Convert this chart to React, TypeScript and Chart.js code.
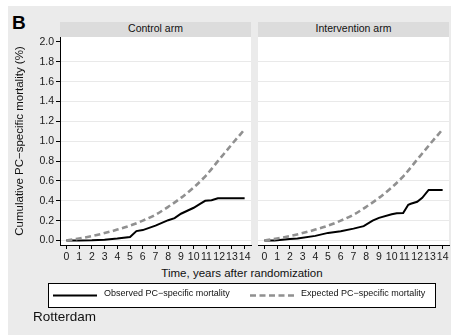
import React, { useEffect, useRef } from "react";
import { Chart, registerables } from "chart.js";

Chart.register(...registerables);

// ---------- data ----------
const xTickValues = [0, 1, 2, 3, 4, 5, 6, 7, 8, 9, 10, 11, 12, 13, 14];
const xTickLabels = ["0", "1", "2", "3", "4", "5", "6", "7", "8", "9", "10", "11", "12", "13", "14"];
const yTickValues = [0, 0.2, 0.4, 0.6, 0.8, 1.0, 1.2, 1.4, 1.6, 1.8, 2.0];
const yTickLabels = ["0.0", "0.2", "0.4", "0.6", "0.8", "1.0", "1.2", "1.4", "1.6", "1.8", "2.0"];

const expectedYears = [0, 1, 2, 3, 4, 5, 6, 7, 8, 9, 10, 11, 12, 13, 14];
const expectedControl = [0, 0.02, 0.045, 0.075, 0.11, 0.15, 0.2, 0.26, 0.34, 0.43, 0.535, 0.66, 0.815, 0.97, 1.12];
const expectedIntervention = [0, 0.02, 0.045, 0.075, 0.11, 0.15, 0.2, 0.26, 0.34, 0.43, 0.535, 0.66, 0.815, 0.97, 1.12];

const controlObsYears = [0, 1, 2, 3, 4, 5, 5.5, 6, 7, 8, 8.5, 9, 9.5, 10, 10.5, 10.9, 11.4, 11.9, 14];
const controlObsValues = [0, 0, 0.002, 0.008, 0.02, 0.035, 0.095, 0.105, 0.15, 0.205, 0.225, 0.27, 0.3, 0.33, 0.37, 0.4, 0.405, 0.425, 0.425];

const interventionObsYears = [0, 0.8, 2, 2.6, 4, 5, 6, 7, 7.8, 8.5, 9, 10, 10.4, 10.9, 11.3, 11.5, 12, 12.4, 12.9, 14];
const interventionObsValues = [0, 0, 0.015, 0.02, 0.047, 0.077, 0.094, 0.12, 0.145, 0.2, 0.228, 0.265, 0.275, 0.278, 0.36, 0.37, 0.39, 0.43, 0.51, 0.51];

const FONT = "'Liberation Sans', Arial, Helvetica, sans-serif";

const whiteArea = {
  id: "whiteArea",
  beforeDraw(chart: any) {
    const { ctx, chartArea: a } = chart;
    ctx.save();
    ctx.fillStyle = "#ffffff";
    ctx.fillRect(a.left, a.top, a.right - a.left, a.bottom - a.top);
    ctx.restore();
  },
};

function buildChart(
  canvas: HTMLCanvasElement,
  obsYears: number[],
  obsValues: number[],
  expected: number[],
  showY: boolean
) {
  const obs = obsYears.map((x, i) => ({ x, y: obsValues[i] }));
  const exp = expectedYears.map((x, i) => ({ x, y: expected[i] }));
  return new Chart(canvas, {
    type: "line",
    data: {
      datasets: [
        {
          label: "Expected PC−specific mortality",
          data: exp,
          borderColor: "#909090",
          borderWidth: 2.6,
          borderDash: [6, 3.5],
          pointRadius: 0,
          cubicInterpolationMode: "monotone",
          fill: false,
        },
        {
          label: "Observed PC−specific mortality",
          data: obs,
          borderColor: "#000000",
          borderWidth: 2,
          pointRadius: 0,
          tension: 0,
          fill: false,
        },
      ],
    },
    options: {
      animation: false,
      responsive: false,
      maintainAspectRatio: false,
      devicePixelRatio: 1,
      layout: { padding: { left: 0, right: 3, top: 0, bottom: 0 } },
      plugins: {
        legend: { display: false },
        tooltip: { enabled: false },
      },
      scales: {
        x: {
          type: "linear",
          min: -0.5,
          max: 14.5,
          afterBuildTicks: (s: any) => {
            s.ticks = xTickValues.map((v) => ({ value: v }));
          },
          afterFit: (s: any) => {
            s.height = 22;
            s.paddingLeft = 0;
            s.paddingRight = 0;
          },
          ticks: {
            autoSkip: false,
            maxRotation: 0,
            padding: 2,
            color: "#1a1a1a",
            font: { family: FONT, size: 10.5 },
            callback: (_v: any, i: number) => xTickLabels[i],
          },
          grid: {
            drawOnChartArea: false,
            drawTicks: true,
            tickLength: 4,
            tickColor: "#000000",
            color: "#000000",
          },
          border: { display: true, color: "#000000", width: 1 },
        },
        y: {
          type: "linear",
          min: -0.045,
          max: 2.05,
          afterBuildTicks: (s: any) => {
            s.ticks = yTickValues.map((v) => ({ value: v }));
          },
          afterFit: (s: any) => {
            s.width = showY ? 52 : 0;
            s.paddingTop = 0;
            s.paddingBottom = 0;
          },
          ticks: {
            display: showY,
            autoSkip: false,
            padding: 2,
            color: "#1a1a1a",
            font: { family: FONT, size: 10.5 },
            callback: (_v: any, i: number) => yTickLabels[i],
          },
          grid: {
            color: (c: any) => (c.tick && c.tick.value === 2 ? "rgba(0,0,0,0)" : "#e9e9e9"),
            lineWidth: 1,
            drawTicks: showY,
            tickLength: showY ? 4 : 0,
            tickColor: "#000000",
          },
          border: { display: showY, color: "#000000", width: 1 },
          title: {
            display: showY,
            text: "Cumulative PC−specific mortality (%)",
            color: "#111111",
            font: { family: FONT, size: 11.5 },
            padding: { top: 5, bottom: 0 },
          },
        },
      },
    },
    plugins: [whiteArea],
  } as any);
}

function Panel(props: {
  left: number;
  width: number;
  obsYears: number[];
  obsValues: number[];
  expected: number[];
  showY: boolean;
}) {
  const ref = useRef<HTMLCanvasElement | null>(null);
  useEffect(() => {
    if (!ref.current) return;
    const chart = buildChart(ref.current, props.obsYears, props.obsValues, props.expected, props.showY);
    return () => chart.destroy();
  }, []);
  return (
    <canvas
      ref={ref}
      width={props.width}
      height={230}
      style={{ position: "absolute", left: props.left, top: 37, width: props.width, height: 230 }}
    />
  );
}

const text = (extra: React.CSSProperties): React.CSSProperties => ({
  position: "absolute",
  fontFamily: FONT,
  lineHeight: 1,
  whiteSpace: "nowrap",
  color: "#111",
  ...extra,
});

export default function App() {
  return (
    <div style={{ position: "absolute", left: 0, top: 0, width: 458, height: 335, background: "#fff", overflow: "hidden" }}>
      <div style={{ position: "absolute", left: 8, top: 6, width: 443, height: 329, background: "#ebebeb" }} />
      <div style={text({ left: 12, top: 13, fontSize: 19, fontWeight: "bold", color: "#000" })}>B</div>

      <div
        style={{
          position: "absolute",
          left: 60,
          top: 22,
          width: 191,
          height: 15,
          background: "#dcdcdc",
          fontFamily: FONT,
          fontSize: 10.5,
          lineHeight: "13.5px",
          textAlign: "center",
          color: "#111",
        }}
      >
        Control arm
      </div>
      <div
        style={{
          position: "absolute",
          left: 258,
          top: 22,
          width: 191,
          height: 15,
          background: "#dcdcdc",
          fontFamily: FONT,
          fontSize: 10.5,
          lineHeight: "13.5px",
          textAlign: "center",
          color: "#111",
        }}
      >
        Intervention arm
      </div>

      <Panel left={8} width={246} obsYears={controlObsYears} obsValues={controlObsValues} expected={expectedControl} showY={true} />
      <Panel left={258} width={194} obsYears={interventionObsYears} obsValues={interventionObsValues} expected={expectedIntervention} showY={false} />

      <div style={text({ left: 42, width: 400, top: 268, fontSize: 11.5, textAlign: "center" })}>
        Time, years after randomization
      </div>

      <div
        style={{
          position: "absolute",
          left: 48,
          top: 283,
          width: 388,
          height: 25,
          background: "#fff",
          border: "1px solid #000",
          boxSizing: "border-box",
        }}
      />
      <svg style={{ position: "absolute", left: 0, top: 0 }} width={458} height={335}>
        <line x1={53} y1={295.5} x2={97} y2={295.5} stroke="#000" strokeWidth={2} />
        <line x1={250} y1={295.5} x2={295} y2={295.5} stroke="#909090" strokeWidth={2.6} strokeDasharray="6 3.5" />
      </svg>
      <div style={text({ left: 104, top: 289.4, fontSize: 9 })}>Observed PC−specific mortality</div>
      <div style={text({ left: 301, top: 289.4, fontSize: 9 })}>Expected PC−specific mortality</div>

      <div style={text({ left: 33, top: 310.3, fontSize: 13.5 })}>Rotterdam</div>
    </div>
  );
}
